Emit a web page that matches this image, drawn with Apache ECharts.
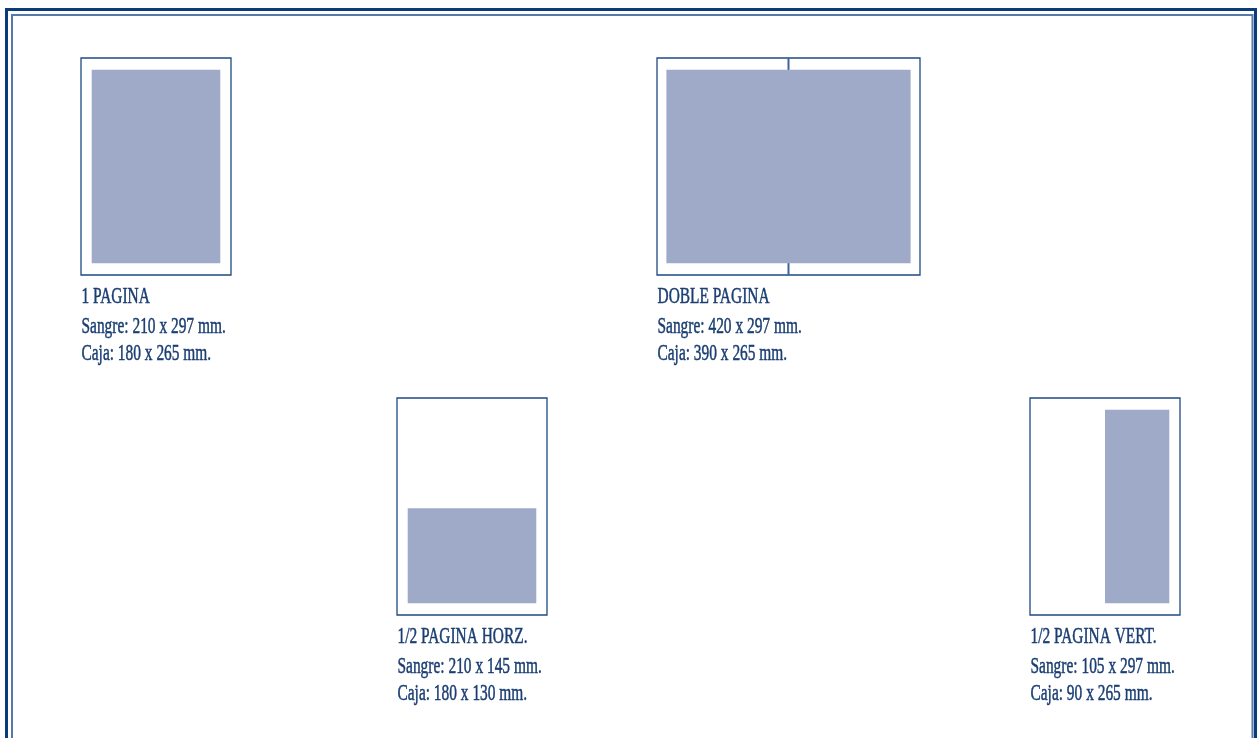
<!DOCTYPE html>
<html>
<head>
<meta charset="utf-8">
<script src="https://cdn.jsdelivr.net/npm/echarts@6/dist/echarts.min.js"></script>
<style>
html,body{margin:0;padding:0;background:#fff;}
#chart{width:1258px;height:738px;}
</style>
</head>
<body>
<div id="chart"></div>
<script>
// Formats (mm)
const titles = ['1 PAGINA', 'DOBLE PAGINA', '1/2 PAGINA HORZ.', '1/2 PAGINA VERT.'];
const sangreW = [210, 420, 210, 105];
const sangreH = [297, 297, 145, 297];
const cajaW = [180, 390, 180, 90];
const cajaH = [265, 265, 130, 265];
// page outline drawn for each format (mm)
const pageW = [210, 420, 210, 210];
const pageH = [297, 297, 297, 297];
// caja position inside the page outline (mm)
const cajaX = [15, 15, 15, 105];
const cajaY = [16, 16, 151, 16];
// fold line of a spread (mm), null when none
const foldAt = [null, 210, null, null];

// layout of the four diagrams (px)
const gridBoxes = [
  {left: 81, top: 58, width: 150, height: 217},
  {left: 657, top: 58, width: 263, height: 217},
  {left: 397, top: 398, width: 150, height: 217},
  {left: 1030, top: 398, width: 150, height: 217}
];

const NAVY = '#1d4a82';
const TEXT = '#1a3e72';
const FILL = '#9faac8';
const FONT = 'Liberation Serif';

function renderItem(params, api) {
  const i = api.value(0);
  const p0 = api.coord([0, 0]);
  const p1 = api.coord([pageW[i], pageH[i]]);
  const c0 = api.coord([cajaX[i], cajaY[i]]);
  const c1 = api.coord([cajaX[i] + cajaW[i], cajaY[i] + cajaH[i]]);
  const children = [];
  children.push({
    type: 'rect',
    shape: {x: p0[0], y: p0[1], width: p1[0] - p0[0], height: p1[1] - p0[1]},
    style: {fill: '#fff', stroke: NAVY, lineWidth: 1.3}
  });
  if (foldAt[i] != null) {
    const f0 = api.coord([foldAt[i], 0]);
    const f1 = api.coord([foldAt[i], pageH[i]]);
    children.push({
      type: 'line',
      shape: {x1: f0[0], y1: f0[1], x2: f1[0], y2: f1[1]},
      style: {stroke: '#3a6498', lineWidth: 2}
    });
  }
  children.push({
    type: 'rect',
    shape: {x: c0[0], y: c0[1], width: c1[0] - c0[0], height: c1[1] - c0[1]},
    style: {fill: FILL}
  });
  const lines = [
    titles[i],
    'Sangre: ' + sangreW[i] + ' x ' + sangreH[i] + ' mm.',
    'Caja: ' + cajaW[i] + ' x ' + cajaH[i] + ' mm.'
  ];
  const offs = [21.5, 51.5, 79];
  lines.forEach(function (t, k) {
    children.push({
      type: 'text',
      x: p0[0] + 0.5,
      y: p1[1] + offs[k],
      scaleX: 0.67,
      style: {
        text: t, x: 0, y: 0,
        fill: TEXT,
        stroke: TEXT,
        lineWidth: 0.5,
        font: '23px "' + FONT + '"',
        align: 'left',
        verticalAlign: 'middle'
      }
    });
  });
  return {type: 'group', children: children};
}

const chart = echarts.init(document.getElementById('chart'), null, {renderer: 'canvas'});
const grids = [], xAxes = [], yAxes = [], series = [];
titles.forEach(function (t, i) {
  grids.push(Object.assign({containLabel: false}, gridBoxes[i]));
  xAxes.push({type: 'value', gridIndex: i, min: 0, max: pageW[i], show: false});
  yAxes.push({type: 'value', gridIndex: i, min: 0, max: pageH[i], inverse: true, show: false});
  series.push({
    type: 'custom',
    name: t,
    xAxisIndex: i,
    yAxisIndex: i,
    clip: false,
    silent: true,
    renderItem: renderItem,
    data: [[i]]
  });
});

chart.setOption({
  animation: false,
  backgroundColor: '#fff',
  grid: grids,
  xAxis: xAxes,
  yAxis: yAxes,
  series: series,
  graphic: [
    {type: 'rect', shape: {x: 6.5, y: 9.5, width: 1249, height: 800},
     style: {fill: 'none', stroke: '#0b3c7a', lineWidth: 3}, silent: true},
    {type: 'rect', shape: {x: 12, y: 15, width: 1240.5, height: 800},
     style: {fill: 'none', stroke: '#5579a8', lineWidth: 2}, silent: true}
  ]
});
</script>
</body>
</html>
